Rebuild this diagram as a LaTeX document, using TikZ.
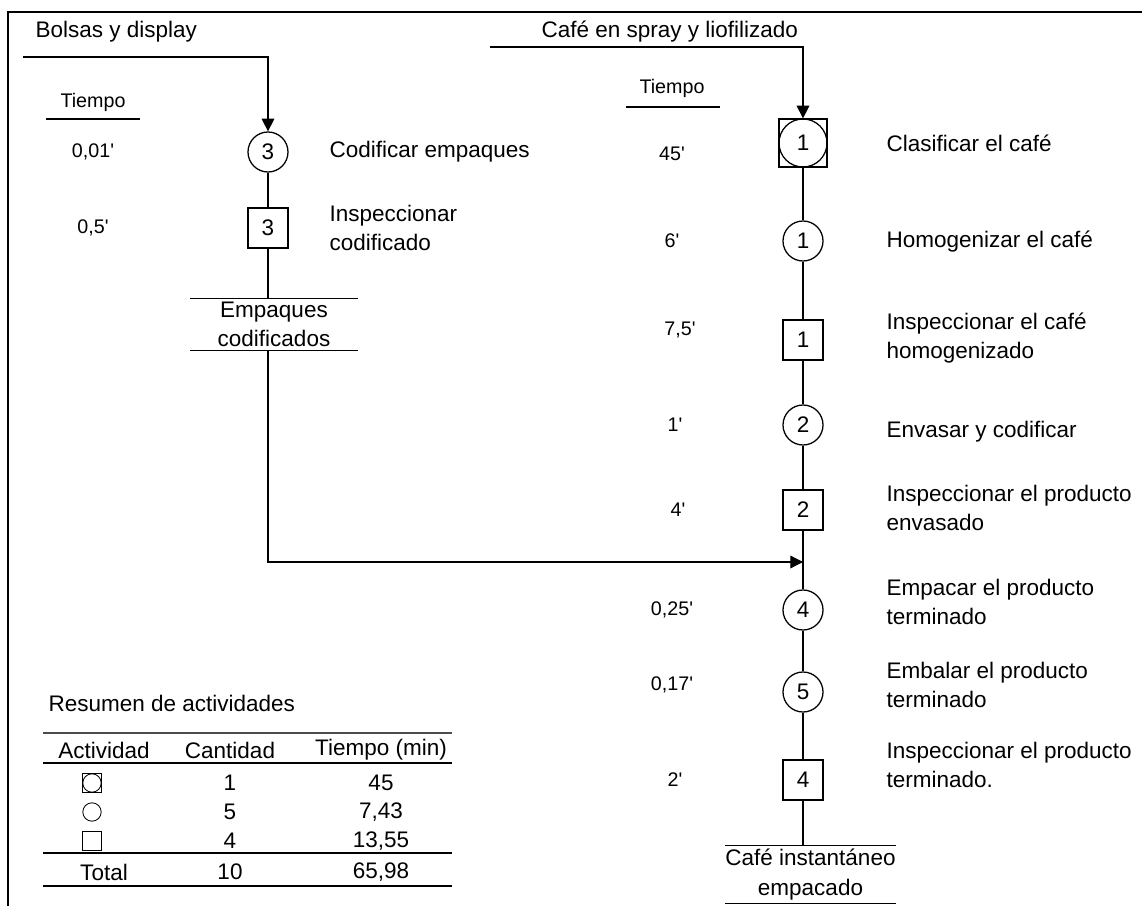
\documentclass[tikz,border=0pt]{standalone}
\usepackage{fontspec}
\setmainfont{Liberation Sans}
\usetikzlibrary{arrows.meta}

\begin{document}
\begin{tikzpicture}[x=0.025cm, y=-0.025cm, line width=0.9pt]
	\tikzstyle{every node} = [inner sep=0pt, font=\fontsize{16}{21}\selectfont]
	\tikzstyle{op} = [draw, circle, minimum size=1cm]
	\tikzstyle{insp} = [draw, minimum size=1cm]
	\tikzstyle{lbl} = [anchor=west, align=left]
	\tikzstyle{tm} = [font=\fontsize{14}{17}\selectfont]
	\tikzstyle{flow} = [-{Triangle[width=9pt,length=9pt]}]
	\tikzstyle{icon} = [draw, line width=0.6pt, minimum size=0.46cm]
	\useasboundingbox (0,0) rectangle (1142,906);
	\draw (1142,12) -- (8,12) -- (8,906);
	% rama de empaques
	\node[lbl] (L0) at (35,32) {Bolsas y display};
	\coordinate (in1) at (23,57);
	\node[tm] (T0) at (93,102) {Tiempo};
	\draw (46,119) -- (140,119);
	\node[op] (C3) at (268,152) {3};
	\node[insp] (I3) at (268,228) {3};
	\node[tm] (t1) at (93,152) {0,01\textquotesingle};
	\node[tm] (t2) at (93,228) {0,5\textquotesingle};
	\node[lbl] (L1) at (329,152) {Codificar empaques};
	\node[lbl] (L2) at (329,228) {Inspeccionar\\codificado};
	\node[minimum width=4.15cm, minimum height=1.275cm, align=center] (E1) at (274,324.5) {Empaques\\codificados};
	\draw (E1.north west) -- (E1.north east);
	\draw (E1.south west) -- (E1.south east);
	\draw [flow] (in1) -| (C3);
	\draw [-] (C3)--(I3);
	\draw [-] (I3)--(I3 |- E1.north);
	% rama del cafe
	\node[lbl] (L3) at (541,32) {Café en spray y liofilizado};
	\coordinate (in2) at (490,47);
	\node[tm] (T1) at (672,88) {Tiempo};
	\draw (626,107) -- (720,107);
	\node[draw, minimum size=1.2cm] (B1s) at (803,143) {};
	\node[draw, circle, minimum size=1.2cm] (B1) at (803,143) {1};
	\node[op] (C1) at (803,241) {1};
	\node[insp] (I1) at (803,340) {1};
	\node[op] (C2) at (803,425) {2};
	\node[insp] (I2) at (803,510) {2};
	\coordinate (M) at (803,562);
	\node[op] (C4) at (803,610) {4};
	\node[op] (C5) at (803,692) {5};
	\node[insp] (I4) at (803,780) {4};
	\node[tm] (t3) at (672,154) {45\textquotesingle};
	\node[tm] (t4) at (672,241) {6\textquotesingle};
	\node[tm] (t5) at (680,330) {7,5\textquotesingle};
	\node[tm] (t6) at (675,425) {1\textquotesingle};
	\node[tm] (t7) at (678,510) {4\textquotesingle};
	\node[tm] (t8) at (672,610) {0,25\textquotesingle};
	\node[tm] (t9) at (672,685) {0,17\textquotesingle};
	\node[tm] (t10) at (675,780) {2\textquotesingle};
	\node[lbl] (L4) at (886,143) {Clasificar el café};
	\node[lbl] (L5) at (886,242) {Homogenizar el café};
	\node[lbl] (L6) at (886,338) {Inspeccionar el café\\homogenizado};
	\node[lbl] (L7) at (886,432) {Envasar y codificar};
	\node[lbl] (L8) at (886,508) {Inspeccionar el producto\\envasado};
	\node[lbl] (L9) at (886,602) {Empacar el producto\\terminado};
	\node[lbl] (L10) at (886,685) {Embalar el producto\\terminado};
	\node[lbl] (L11) at (886,765) {Inspeccionar el producto\\terminado.};
	\node[minimum width=4.125cm, minimum height=1.425cm, align=center] (F1) at (810.5,874.5) {Café instantáneo\\empacado};
	\draw (F1.north west) -- (F1.north east);
	\draw (F1.south west) -- (F1.south east);
	\draw [flow] (in2) -| (B1s);
	\draw [-] (B1s)--(C1);
	\draw [-] (C1)--(I1);
	\draw [-] (I1)--(C2);
	\draw [-] (C2)--(I2);
	\draw [-] (I2)--(C4);
	\draw [-] (C4)--(C5);
	\draw [-] (C5)--(I4);
	\draw [-] (I4)--(I4 |- F1.north);
	\draw [flow] (E1.south -| I3) |- (M);
	% resumen
	\node[lbl] (R0) at (48,703) {Resumen de actividades};
	\draw [line width=1.3pt, black!70] (43,733) -- (452,733);
	\draw (43,763) -- (452,763);
	\draw (43,853) -- (452,853);
	\draw (43,886) -- (452,886);
	\node (H1) at (104,750) {Actividad};
	\node (H2) at (230,750) {Cantidad};
	\node (H3) at (381,750) {Tiempo (min)};
	\node[icon] (S1s) at (92,783) {};
	\node[icon, circle] (S1) at (92,783) {};
	\node[icon, circle] (S2) at (92,812) {};
	\node[icon] (S3) at (92,841) {};
	\node (N1) at (230,783) {1};
	\node (N2) at (230,812) {5};
	\node (N3) at (230,841) {4};
	\node (D1) at (381,783) {45};
	\node (D2) at (381,812) {7,43};
	\node (D3) at (381,841) {13,55};
	\node (S4) at (104,872) {Total};
	\node (N4) at (230,872) {10};
	\node (D4) at (381,872) {65,98};
\end{tikzpicture}
\end{document}
